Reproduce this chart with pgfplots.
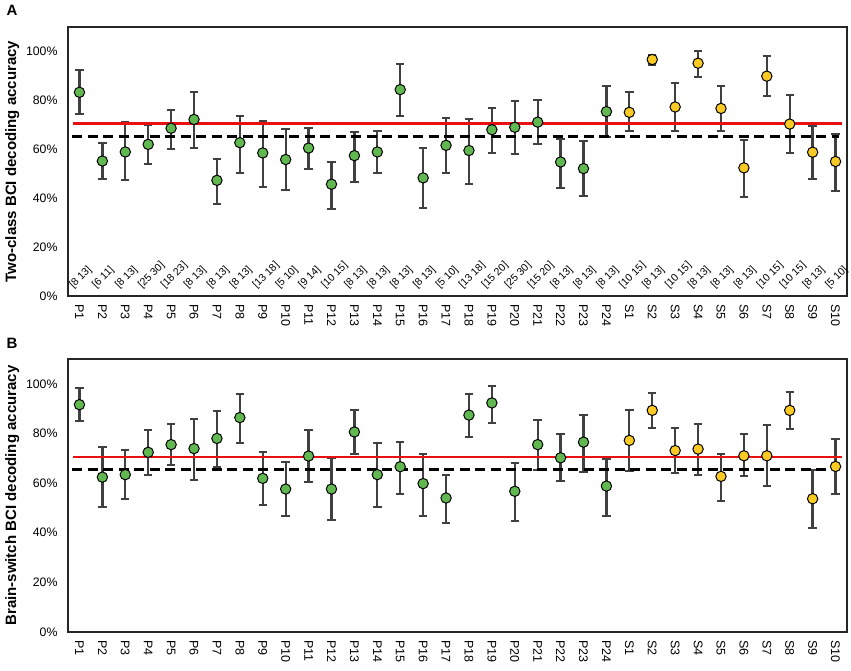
\documentclass[border=0pt]{standalone}
\usepackage{pgfplots}
\pgfplotsset{compat=1.18}
\usepackage{pgfplotstable}
\usepackage{fontspec}
\setmainfont{Liberation Sans}
\definecolor{ptgreen}{RGB}{98,184,80}
\definecolor{styellow}{RGB}{250,202,36}
\definecolor{errgray}{RGB}{64,64,64}
\definecolor{redline}{RGB}{232,16,16}

% x value plus minus
\pgfplotstableread{
x y ep em
0 83.3 9.1 9.0
1 55.2 7.5 7.2
2 58.9 12.1 11.6
3 62.0 7.8 8.1
4 68.6 7.3 8.6
5 72.2 11.2 11.5
6 47.3 8.9 9.5
7 62.7 11.0 12.2
8 58.5 13.2 13.9
9 55.8 12.4 12.3
10 60.5 8.1 8.5
11 45.7 9.0 10.1
12 57.4 9.7 10.6
13 58.9 8.6 8.8
14 84.4 10.6 10.7
15 48.3 12.2 12.2
16 61.6 11.3 11.1
17 59.5 12.9 13.7
18 68.0 9.0 9.5
19 69.0 10.6 11.0
20 71.1 9.2 8.9
21 54.8 9.6 10.7
22 52.1 11.2 11.2
23 75.4 10.4 10.4
}\AP
\pgfplotstableread{
x y ep em
24 75.1 8.3 7.8
25 96.7 1.8 2.3
26 77.3 9.6 10.0
27 95.2 4.9 5.5
28 76.7 9.1 9.4
29 52.4 11.4 12.0
30 89.9 8.3 8.3
31 70.3 12.0 11.8
32 58.8 10.7 11.0
33 55.0 11.4 11.9
}\AS
\pgfplotstableread{
x y ep em
0 91.6 6.7 6.7
1 62.4 12.1 11.9
2 63.4 9.9 10.0
3 72.4 9.0 9.3
4 75.5 8.3 8.2
5 73.9 11.9 12.5
6 78.0 11.2 11.7
7 86.4 9.4 10.4
8 61.9 10.5 10.9
9 57.6 11.0 10.9
10 70.9 10.4 10.6
11 57.6 12.4 12.5
12 80.6 9.0 8.9
13 63.4 12.6 12.9
14 66.6 9.9 10.9
15 59.8 12.1 13.1
16 54.0 9.4 10.0
17 87.4 8.5 8.7
18 92.3 6.7 7.9
19 56.7 11.4 12.1
20 75.5 10.1 10.4
21 70.2 9.4 9.4
22 76.5 10.9 12.1
23 58.8 10.8 12.1
}\BP
\pgfplotstableread{
x y ep em
24 77.2 12.4 12.2
25 89.3 7.2 7.0
26 73.1 9.1 9.2
27 73.7 10.1 10.3
28 62.7 9.2 9.8
29 71.0 8.6 8.0
30 71.0 12.3 12.1
31 89.3 7.6 7.5
32 53.7 11.7 11.7
33 66.7 11.0 11.0
}\BS

\pgfplotsset{
  panel/.style={
    scale only axis,
    width=779pt,
    xmin=-0.5, xmax=33.5,
    ymin=0, ymax=110,
    xtick={0,...,33},
    xticklabels={P1,P2,P3,P4,P5,P6,P7,P8,P9,P10,P11,P12,P13,P14,P15,P16,P17,P18,P19,P20,P21,P22,P23,P24,S1,S2,S3,S4,S5,S6,S7,S8,S9,S10},
    ytick={0,20,40,60,80,100},
    yticklabels={0\%,20\%,40\%,60\%,80\%,100\%},
    major tick length=0pt,
    xticklabel style={rotate=-90, anchor=west, font=\fontsize{12.5}{14}\selectfont},
    yticklabel style={font=\fontsize{12.3}{14}\selectfont},
    xticklabel shift=5pt,
    yticklabel shift=7pt,
    axis line style={line width=1.1pt, black!85},
    ylabel style={at={(axis description cs:-0.058,0.5)}, anchor=south, font=\fontsize{15}{17}\selectfont\bfseries},
    clip=false,
  },
  ebar/.style={draw=none, mark=none, forget plot,
    error bars/.cd, y dir=both, y explicit,
    error bar style={color=errgray, line width=2.3pt, solid},
    error mark options={rotate=90, mark size=4.2pt, line width=2pt, color=errgray}},
  pt/.style={only marks, mark=*, mark size=5.2pt, mark options={draw=black, line width=1pt, fill=#1}},
}

\begin{document}
\begin{tikzpicture}
\useasboundingbox (0,0) rectangle (851pt,-671pt);
\node[font=\fontsize{15}{17}\selectfont\bfseries] at (12pt,-10pt) {A};
\node[font=\fontsize{15}{17}\selectfont\bfseries] at (12pt,-343pt) {B};

\begin{axis}[panel, at={(68pt,-27pt)}, anchor=north west, height=269pt,
  ylabel={Two-class BCI decoding accuracy}]
  \addplot[ebar] table[x=x, y=y, y error plus=ep, y error minus=em] {\AP};
  \addplot[ebar] table[x=x, y=y, y error plus=ep, y error minus=em] {\AS};
  \addplot[pt=ptgreen] table[x=x, y=y] {\AP};
  \addplot[pt=styellow] table[x=x, y=y] {\AS};
  \addplot[black, line width=2.5pt, dash pattern=on 10pt off 5.5pt] coordinates {(-0.32,65.3) (33.13,65.3)};
  \addplot[redline, line width=2.5pt] coordinates {(-0.26,70.5) (33.26,70.5)};
  \begin{scope}[every node/.style={rotate=45, anchor=south west, inner sep=0pt, font=\fontsize{10.5}{12}\selectfont}]
  \node at (axis cs:-0.2,2.3) {[8 13]};
  \node at (axis cs:0.8,2.3) {[6 11]};
  \node at (axis cs:1.8,2.3) {[8 13]};
  \node at (axis cs:2.8,2.3) {[25 30]};
  \node at (axis cs:3.8,2.3) {[18 23]};
  \node at (axis cs:4.8,2.3) {[8 13]};
  \node at (axis cs:5.8,2.3) {[8 13]};
  \node at (axis cs:6.8,2.3) {[8 13]};
  \node at (axis cs:7.8,2.3) {[13 18]};
  \node at (axis cs:8.8,2.3) {[5 10]};
  \node at (axis cs:9.8,2.3) {[9 14]};
  \node at (axis cs:10.8,2.3) {[10 15]};
  \node at (axis cs:11.8,2.3) {[8 13]};
  \node at (axis cs:12.8,2.3) {[8 13]};
  \node at (axis cs:13.8,2.3) {[8 13]};
  \node at (axis cs:14.8,2.3) {[8 13]};
  \node at (axis cs:15.8,2.3) {[5 10]};
  \node at (axis cs:16.8,2.3) {[13 18]};
  \node at (axis cs:17.8,2.3) {[15 20]};
  \node at (axis cs:18.8,2.3) {[25 30]};
  \node at (axis cs:19.8,2.3) {[15 20]};
  \node at (axis cs:20.8,2.3) {[8 13]};
  \node at (axis cs:21.8,2.3) {[8 13]};
  \node at (axis cs:22.8,2.3) {[8 13]};
  \node at (axis cs:23.8,2.3) {[10 15]};
  \node at (axis cs:24.8,2.3) {[8 13]};
  \node at (axis cs:25.8,2.3) {[10 15]};
  \node at (axis cs:26.8,2.3) {[8 13]};
  \node at (axis cs:27.8,2.3) {[8 13]};
  \node at (axis cs:28.8,2.3) {[8 13]};
  \node at (axis cs:29.8,2.3) {[10 15]};
  \node at (axis cs:30.8,2.3) {[10 15]};
  \node at (axis cs:31.8,2.3) {[8 13]};
  \node at (axis cs:32.8,2.3) {[5 10]};
  \end{scope}
\end{axis}

\begin{axis}[panel, at={(68pt,-359pt)}, anchor=north west, height=273pt,
  ylabel={Brain-switch BCI decoding accuracy}]
  \addplot[ebar] table[x=x, y=y, y error plus=ep, y error minus=em] {\BP};
  \addplot[ebar] table[x=x, y=y, y error plus=ep, y error minus=em] {\BS};
  \addplot[pt=ptgreen] table[x=x, y=y] {\BP};
  \addplot[pt=styellow] table[x=x, y=y] {\BS};
  \addplot[black, line width=2.5pt, dash pattern=on 10pt off 5.5pt] coordinates {(-0.32,65.4) (33.13,65.4)};
  \addplot[redline, line width=2.5pt] coordinates {(-0.26,70.5) (33.26,70.5)};
\end{axis}
\end{tikzpicture}
\end{document}
